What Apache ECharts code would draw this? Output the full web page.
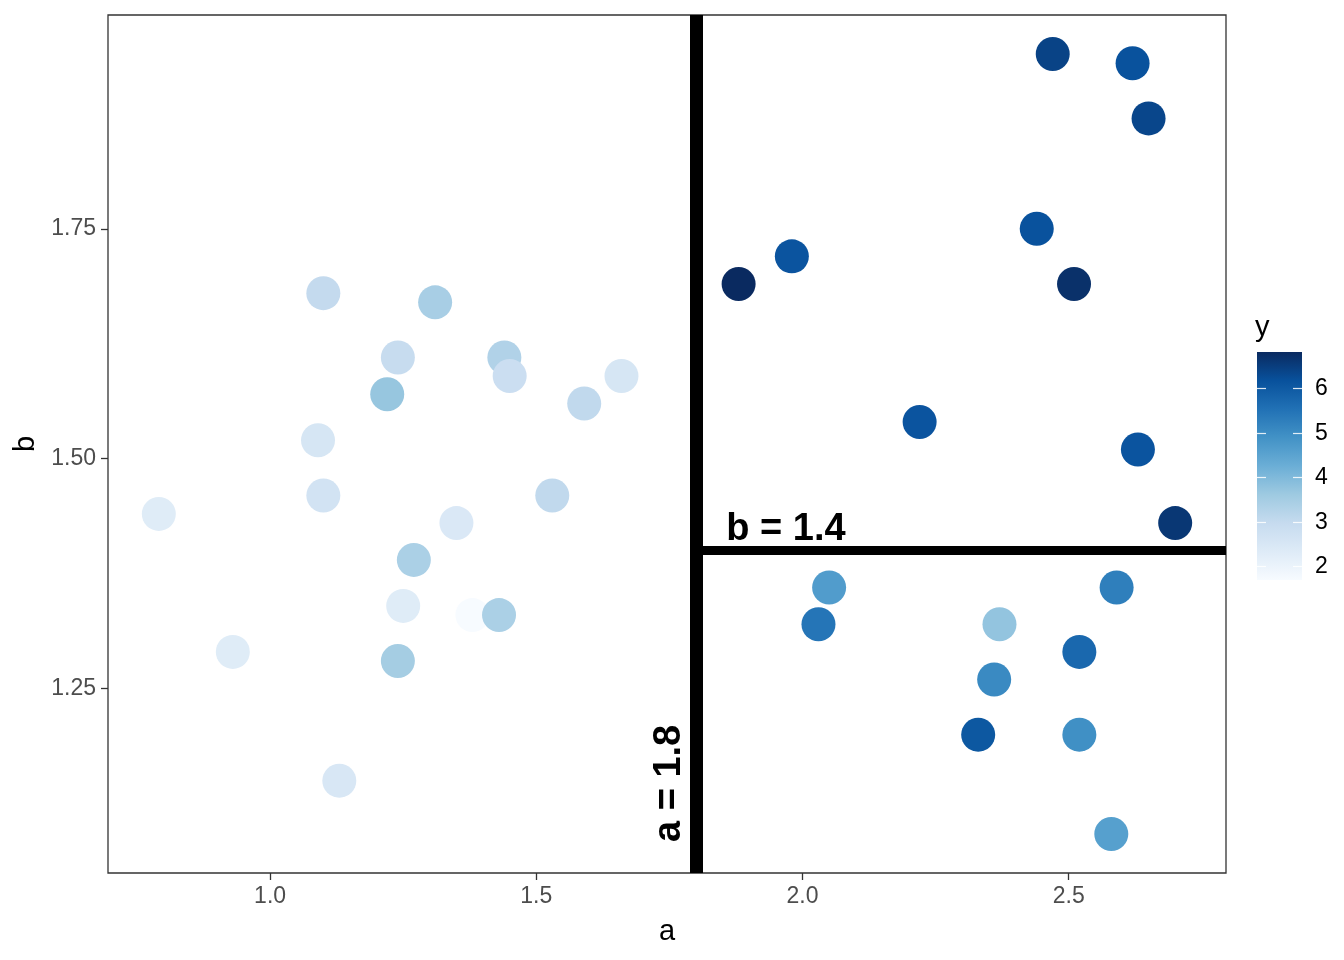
<!DOCTYPE html>
<html>
<head>
<meta charset="utf-8">
<script src="https://cdn.jsdelivr.net/npm/echarts@6/dist/echarts.min.js"></script>
<style>
  html, body { margin: 0; background: #fff; }
  #chart { width: 1344px; height: 960px; }
</style>
</head>
<body>
<div id="chart"></div>
<script>
// data
const aValues = [0.791, 0.93, 1.10, 1.09, 1.10, 1.13, 1.24, 1.22, 1.31, 1.27,
                 1.25, 1.24, 1.35, 1.38, 1.43, 1.44, 1.45, 1.53, 1.59, 1.66,
                 1.88, 1.98, 2.22, 2.47, 2.62, 2.65, 2.44, 2.51, 2.63, 2.70,
                 2.05, 2.03, 2.37, 2.36, 2.33, 2.59, 2.52, 2.52, 2.58];
const bValues = [1.44, 1.29, 1.68, 1.52, 1.46, 1.15, 1.61, 1.57, 1.67, 1.39,
                 1.34, 1.28, 1.43, 1.33, 1.33, 1.61, 1.59, 1.46, 1.56, 1.59,
                 1.69, 1.72, 1.54, 1.94, 1.93, 1.87, 1.75, 1.69, 1.51, 1.43,
                 1.36, 1.32, 1.32, 1.26, 1.20, 1.36, 1.29, 1.20, 1.092];
const yValues = [2.3, 2.3, 3.0, 2.55, 2.65, 2.5, 2.95, 3.7, 3.45, 3.4,
                 2.3, 3.5, 2.45, 1.69, 3.4, 3.3, 2.85, 3.05, 3.05, 2.55,
                 6.81, 6.1, 6.1, 6.4, 6.15, 6.35, 6.15, 6.7, 6.1, 6.6,
                 4.65, 5.45, 3.75, 5.05, 6.03, 5.25, 5.7, 4.93, 4.57];

const xTicks = [1.0, 1.5, 2.0, 2.5];
const yTicks = [1.25, 1.50, 1.75];
const legendTicks = [2, 3, 4, 5, 6];

const splitA = 1.8;
const splitB = 1.4;
const labelText = ['b = 1.4', 'a = 1.8'];
const labelA = [1.969, 1.7505];
const labelB = [1.423, 1.147];
const labelRotate = [0, 90];

const blues = ['#F7FBFF', '#DEEBF7', '#C6DBEF', '#9ECAE1', '#6BAED6',
               '#4292C6', '#2171B5', '#08519C', '#0A2A60'];

// ggplot style 5% expansion
const xMin = Math.min(...aValues), xMax = Math.max(...aValues);
const yMin = Math.min(...bValues), yMax = Math.max(...bValues);
const xLo = xMin - (xMax - xMin) * 0.05, xHi = xMax + (xMax - xMin) * 0.05;
const yLo = yMin - (yMax - yMin) * 0.05, yHi = yMax + (yMax - yMin) * 0.05;
const cMin = Math.min(...yValues), cMax = Math.max(...yValues);

const points = aValues.map((a, i) => [a, bValues[i], yValues[i]]);
const labels = labelText.map((t, i) => ({
  value: [labelA[i], labelB[i]],
  label: { formatter: t, rotate: labelRotate[i] }
}));

const font = 'Liberation Sans, Arial, Helvetica, sans-serif';

// colour bar legend
const bar = { left: 1257, top: 352, width: 45, height: 228 };
const toBarY = v => bar.top + (cMax - v) / (cMax - cMin) * bar.height;
const legendGraphics = [
  {
    type: 'text', left: 1255, top: 313,
    style: { text: 'y', font: '29px ' + font, fill: '#000' }
  },
  {
    type: 'rect',
    shape: { x: bar.left, y: bar.top, width: bar.width, height: bar.height },
    style: {
      fill: new echarts.graphic.LinearGradient(0, 0, 0, 1,
        blues.slice().reverse().map((c, i) => ({ offset: i / (blues.length - 1), color: c })))
    }
  }
];
legendTicks.forEach(v => {
  const y = Math.round(toBarY(v)) + 0.5;
  legendGraphics.push(
    { type: 'line', shape: { x1: bar.left, y1: y, x2: bar.left + 9, y2: y },
      style: { stroke: 'rgba(255,255,255,0.85)', lineWidth: 1.2 } },
    { type: 'line', shape: { x1: bar.left + bar.width - 9, y1: y, x2: bar.left + bar.width, y2: y },
      style: { stroke: 'rgba(255,255,255,0.85)', lineWidth: 1.2 } },
    { type: 'text', x: 1315, y: y,
      style: { text: String(v), font: '23px ' + font, fill: '#000', verticalAlign: 'middle' } }
  );
});

const chart = echarts.init(document.getElementById('chart'));
chart.setOption({
  backgroundColor: '#fff',
  animation: false,
  grid: {
    left: 108, right: 118, top: 15, bottom: 87,
    show: true, borderColor: '#333', borderWidth: 1.3, backgroundColor: '#fff'
  },
  xAxis: {
    type: 'value', min: xLo, max: xHi,
    name: 'a', nameLocation: 'middle', nameGap: 44,
    nameTextStyle: { color: '#000', fontSize: 29, fontFamily: font },
    axisLine: { show: false },
    splitLine: { show: false },
    axisTick: { show: true, length: 7, lineStyle: { color: '#333', width: 1.3 },
                customValues: xTicks },
    axisLabel: { color: '#4d4d4d', fontSize: 23, fontFamily: font, margin: 12,
                 customValues: xTicks, formatter: v => v.toFixed(1) }
  },
  yAxis: {
    type: 'value', min: yLo, max: yHi,
    name: 'b', nameLocation: 'middle', nameGap: 66, nameRotate: 90,
    nameTextStyle: { color: '#000', fontSize: 29, fontFamily: font },
    axisLine: { show: false },
    splitLine: { show: false },
    axisTick: { show: true, length: 7, lineStyle: { color: '#333', width: 1.3 },
                customValues: yTicks },
    axisLabel: { color: '#4d4d4d', fontSize: 23, fontFamily: font, margin: 12,
                 customValues: yTicks, formatter: v => v.toFixed(2) }
  },
  visualMap: {
    show: false, type: 'continuous', dimension: 2, seriesIndex: 0,
    min: cMin, max: cMax, inRange: { color: blues }
  },
  series: [
    {
      type: 'scatter',
      data: points,
      symbolSize: 34,
      itemStyle: { opacity: 1 }
    },
    {
      type: 'scatter',
      data: labels,
      symbolSize: 0,
      silent: true,
      itemStyle: { opacity: 1 },
      label: {
        show: true, position: 'inside', color: '#000', opacity: 1,
        textBorderWidth: 0,
        fontSize: 38, fontWeight: 'bold', fontFamily: font
      },
      markLine: {
        silent: true, symbol: 'none',
        label: { show: false },
        data: [
          [{ coord: [splitA, yLo], lineStyle: { color: '#000', width: 13, type: 'solid', opacity: 1 } },
           { coord: [splitA, yHi] }],
          [{ coord: [splitA, splitB], lineStyle: { color: '#000', width: 9, type: 'solid', opacity: 1 } },
           { coord: [xHi, splitB] }]
        ]
      }
    }
  ],
  graphic: legendGraphics
});
</script>
</body>
</html>
